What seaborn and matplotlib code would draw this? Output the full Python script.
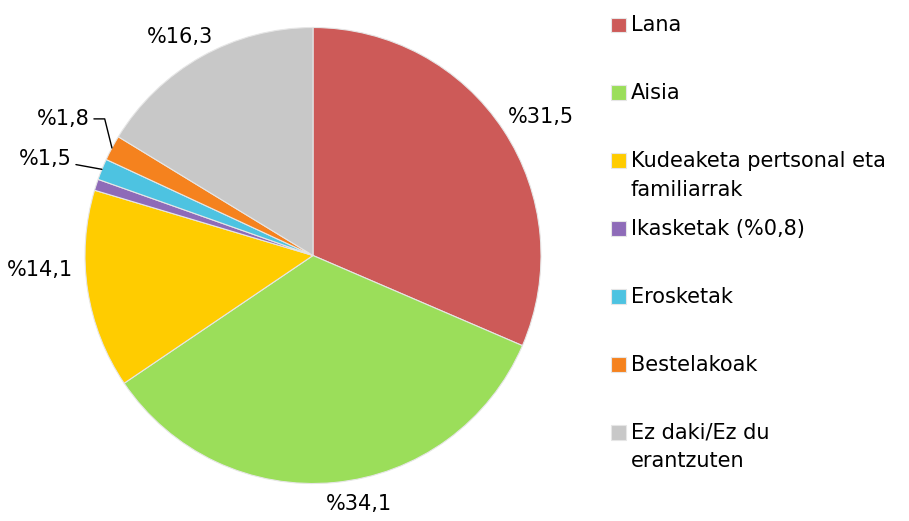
import numpy as np
import matplotlib
matplotlib.use("Agg")
import matplotlib.pyplot as plt
from matplotlib.patches import Rectangle
from matplotlib.legend_handler import HandlerPatch
import seaborn as sns

categories = [
    "Lana",
    "Aisia",
    "Kudeaketa pertsonal eta\nfamiliarrak",
    "Ikasketak (%0,8)",
    "Erosketak",
    "Bestelakoak",
    "Ez daki/Ez du\nerantzuten",
]
shares = [31.5, 34.1, 14.1, 0.8, 1.5, 1.8, 16.3]
value_labels = ["%31,5", "%34,1", "%14,1", "", "%1,5", "%1,8", "%16,3"]
colors = ["#CD5A58", "#9BDE5A", "#FFCC00", "#8E6BB8", "#4DC3E1", "#F5821E", "#C8C8C8"]

# label placement (angle nudge in degrees, distance in radii), leader style
label_nudge = [-2.0, 5.0, -5.6, 0.0, 2.4, -0.5, 2.0]
label_dist = [1.17, 1.11, 1.20, 0.0, 1.25, 1.25, 1.12]
leader = [None, None, None, None, "arc3,rad=0", "angle,angleA=0,angleB=-76,rad=0", None]

sns.set_theme(style="white")
plt.rcParams["font.family"] = ["DejaVu Sans"]
plt.rcParams["text.color"] = "#000000"

W, H = 909, 521
fig = plt.figure(figsize=(W / 100, H / 100), dpi=100)

# pie centre (313, 255.5) px from top-left, radius 228 px
R = 228
lim = 1.3
side = 2 * lim * R
cx, cy = 313, H - 255.5
ax = fig.add_axes([(cx - side / 2) / W, (cy - side / 2) / H, side / W, side / H])

wedges, _ = ax.pie(
    shares,
    colors=colors,
    startangle=90,
    counterclock=False,
    wedgeprops=dict(edgecolor="#E6E6E6", linewidth=0.8),
)
ax.set_xlim(-lim, lim)
ax.set_ylim(-lim, lim)
ax.set_aspect("equal")
ax.axis("off")

for w, txt, nudge, dist, style in zip(wedges, value_labels, label_nudge, label_dist, leader):
    if not txt:
        continue
    mid = np.deg2rad((w.theta1 + w.theta2) / 2)
    ang = mid + np.deg2rad(nudge)
    pos = (dist * np.cos(ang), dist * np.sin(ang))
    if style is None:
        ax.text(pos[0], pos[1], txt, ha="center", va="center", fontsize=15, color="#000000")
    else:
        edge = (np.cos(mid), np.sin(mid))
        ax.annotate(
            txt, xy=edge, xytext=pos, ha="center", va="center", fontsize=15,
            color="#000000",
            arrowprops=dict(arrowstyle="-", color="#000000", lw=1.0,
                            connectionstyle=style, shrinkA=1, shrinkB=0),
        )


# legend rows are all two lines tall, so lift the swatch to the first line
def first_line_swatch(legend, orig_handle, xdescent, ydescent, width, height, fontsize):
    return Rectangle((-xdescent, -ydescent + 11.0), width, height)


legend_labels = [c if "\n" in c else c + "\n" for c in categories]
leg = ax.legend(
    wedges, legend_labels,
    loc="upper left",
    bbox_to_anchor=(611 / W, (H - 15) / H),
    bbox_transform=fig.transFigure,
    frameon=False,
    fontsize=15,
    handlelength=0.7,
    handleheight=0.7,
    handletextpad=0.25,
    labelspacing=0.92,
    borderpad=0,
    borderaxespad=0,
    handler_map={w: HandlerPatch(patch_func=first_line_swatch) for w in wedges},
)
for t in leg.get_texts():
    t.set_linespacing(1.547)
    t.set_color("#000000")

fig.savefig("out.png", dpi=100)
